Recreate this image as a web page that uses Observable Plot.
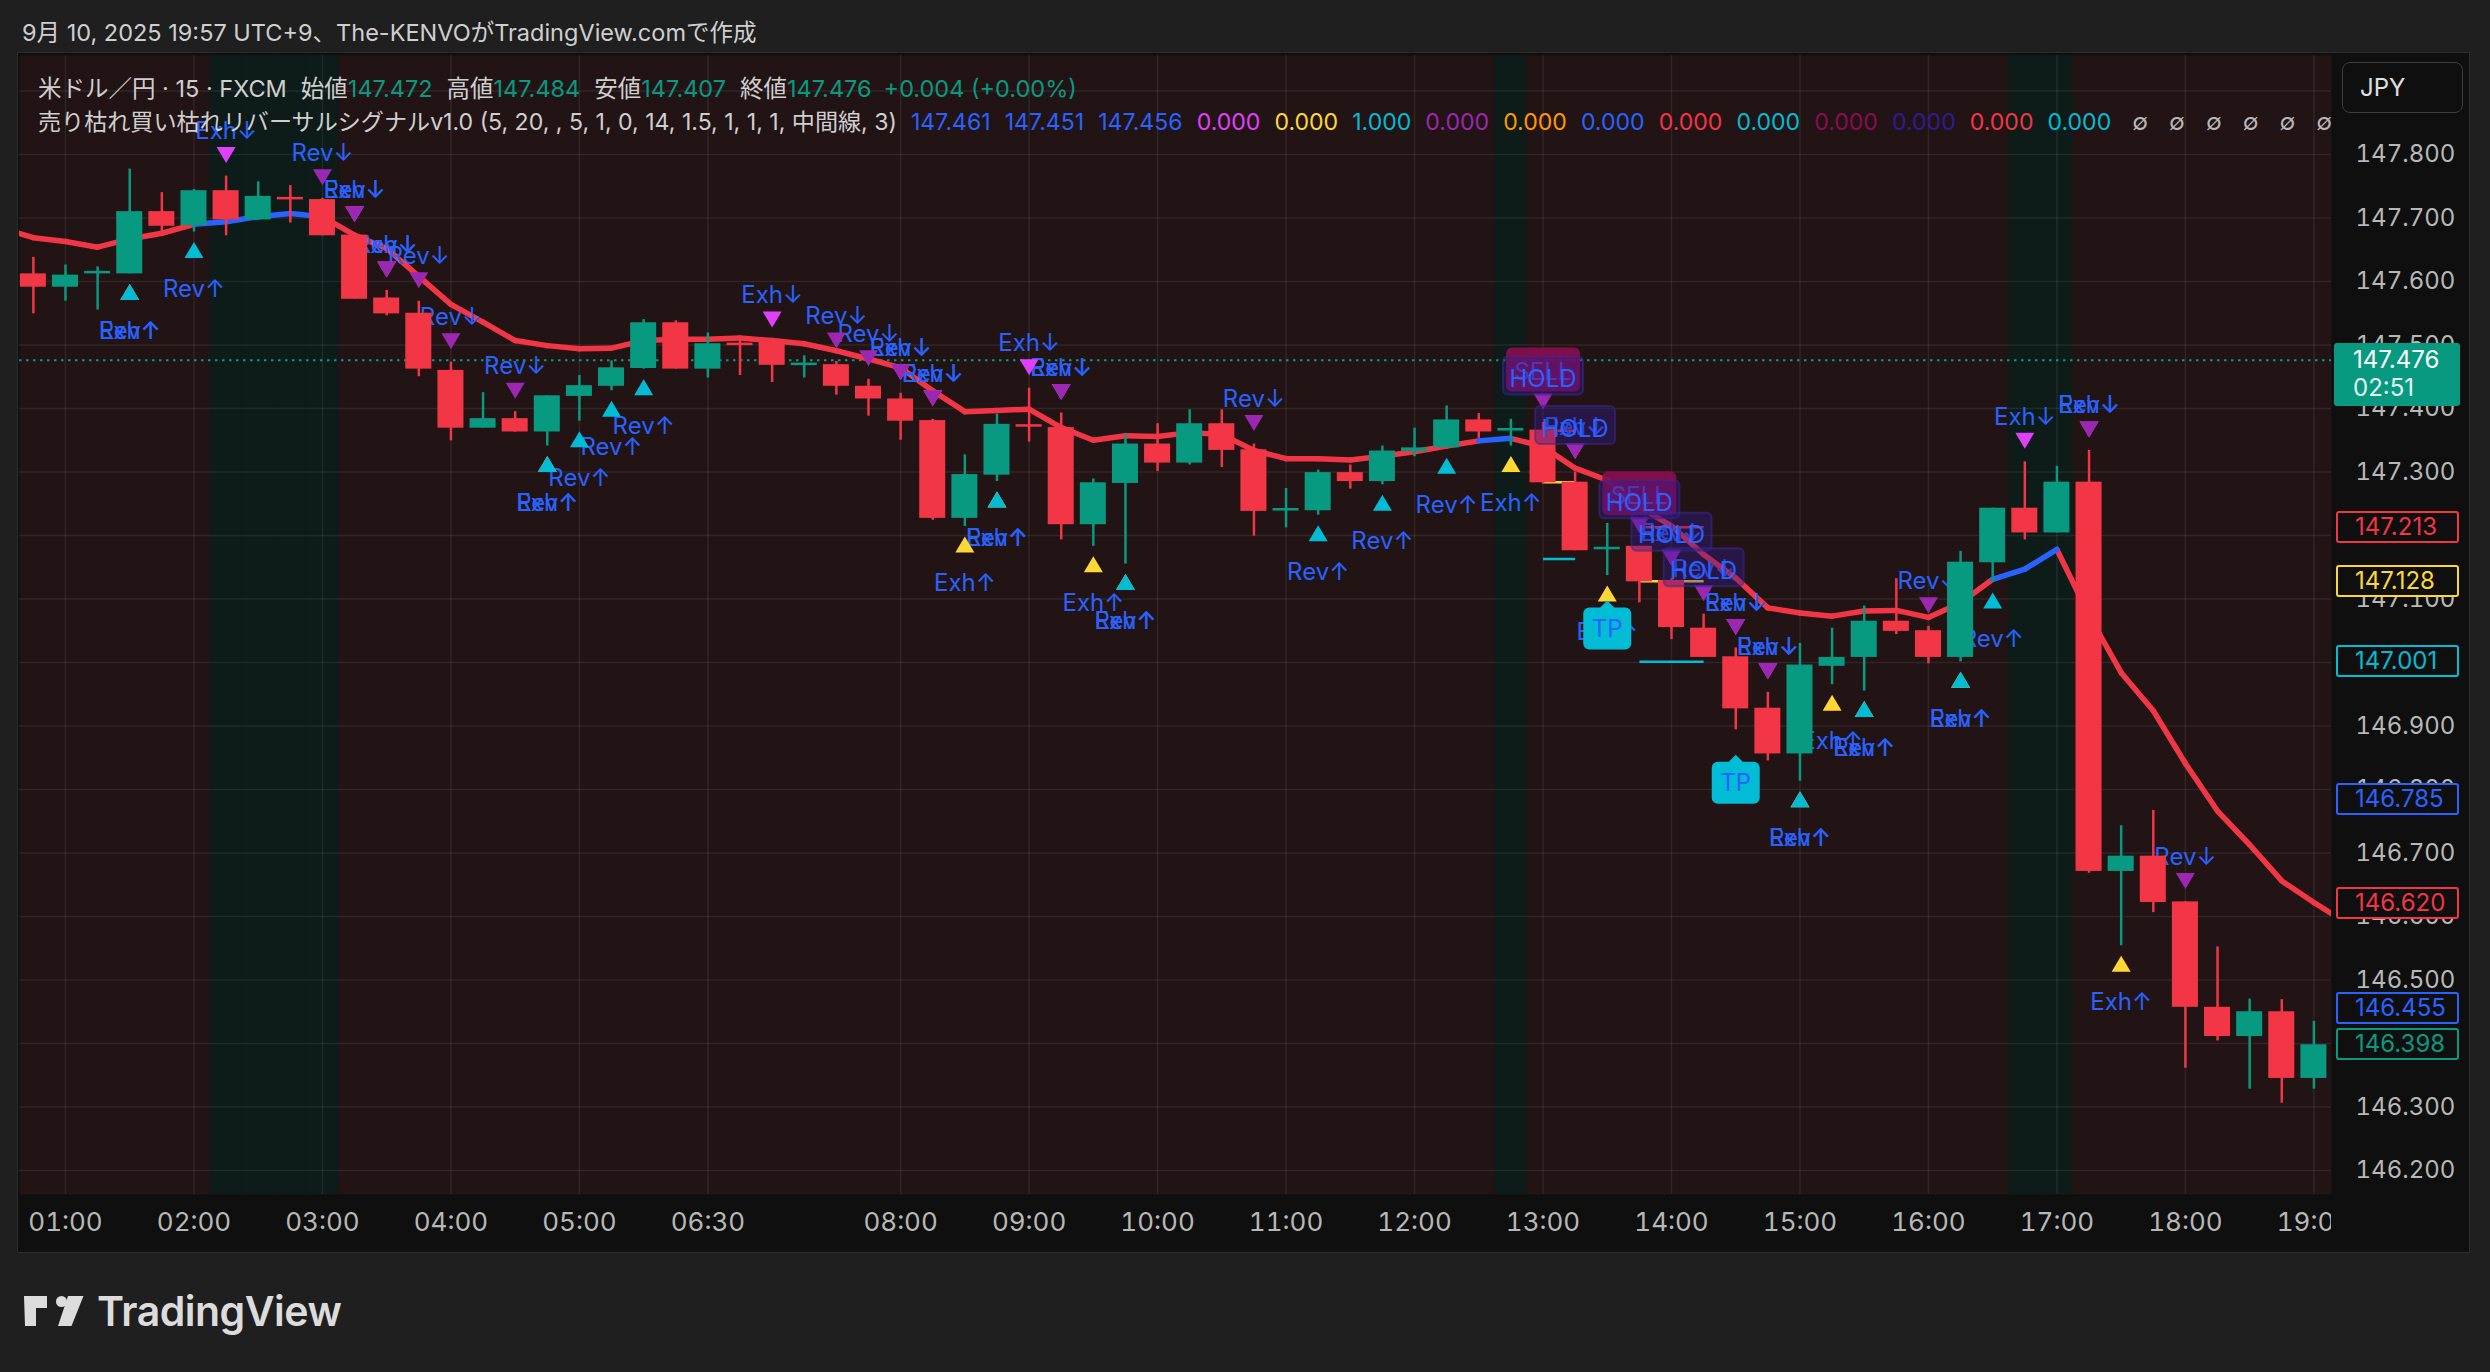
<!DOCTYPE html>
<html><head><meta charset="utf-8">
<script src="https://cdn.jsdelivr.net/npm/d3@7"></script>
<script src="https://cdn.jsdelivr.net/npm/@observablehq/plot@0.6"></script>
<style>
body{margin:0;background:#1f1f1f;width:2490px;height:1372px;overflow:hidden;font-family:Inter,"Noto Sans CJK JP",sans-serif;}
#panel{position:absolute;left:18px;top:53px;width:2451px;height:1199px;background:#0f0f0f;box-shadow:0 0 0 1px #2c2c2c;}
#chart{position:absolute;left:0;top:0;}
.abs{position:absolute;white-space:nowrap;}
.hdr{position:absolute;white-space:nowrap;font-size:23.5px;line-height:26px;color:#cfcfcf;}
.plab{position:absolute;left:2336px;width:119px;height:28px;border:2px solid;border-radius:3px;background:#0f0f0f;font-size:24px;line-height:28px;padding-left:0;box-sizing:content-box;}
.plab span{position:absolute;left:17px;}
</style></head><body>
<div id="panel"></div>
<div id="chart"></div>
<div id="overlay"></div>
<script>
// ---------- data ----------
const candleIdx = d3.range(-1, 71); // 00:45 ... 19:00 (15-min bars)
const openV  = [147.612,147.591,147.613,147.612,147.710,147.688,147.743,147.697,147.731,147.729,147.673,147.574,147.550,147.460,147.369,147.384,147.363,147.419,147.435,147.463,147.535,147.462,147.502,147.507,147.469,147.469,147.435,147.415,147.381,147.227,147.295,147.373,147.370,147.217,147.282,147.344,147.314,147.376,147.335,147.240,147.239,147.299,147.285,147.332,147.338,147.382,147.366,147.366,147.284,147.179,147.183,147.129,147.054,147.009,146.928,146.856,146.994,147.008,147.065,147.050,147.008,147.157,147.243,147.204,147.284,146.671,146.695,146.623,146.457,146.411,146.450,146.345];
const highV  = [147.638,147.626,147.623,147.777,147.740,147.745,147.766,147.757,147.751,147.731,147.673,147.586,147.569,147.473,147.425,147.395,147.420,147.452,147.475,147.540,147.538,147.519,147.512,147.507,147.483,147.474,147.446,147.424,147.383,147.327,147.391,147.432,147.393,147.289,147.359,147.376,147.398,147.398,147.344,147.274,147.303,147.311,147.341,147.369,147.404,147.392,147.383,147.378,147.300,147.219,147.183,147.132,147.076,147.023,146.953,147.030,147.054,147.089,147.132,147.057,147.175,147.243,147.316,147.309,147.334,146.743,146.767,146.623,146.552,146.470,146.469,146.435];
const lowV   = [147.549,147.569,147.555,147.612,147.679,147.678,147.672,147.697,147.692,147.672,147.572,147.546,147.450,147.349,147.369,147.363,147.341,147.380,147.428,147.462,147.462,147.448,147.452,147.441,147.448,147.421,147.388,147.350,147.224,147.214,147.285,147.347,147.193,147.183,147.155,147.301,147.311,147.307,147.199,147.212,147.232,147.273,147.280,147.324,147.338,147.353,147.341,147.281,147.176,147.137,147.094,147.036,147.008,146.894,146.845,146.813,146.965,146.955,147.044,146.998,147.001,147.126,147.193,147.204,146.668,146.554,146.606,146.361,146.404,146.328,146.306,146.328];
const closeV = [147.591,147.610,147.615,147.710,147.687,147.743,147.697,147.734,147.730,147.672,147.572,147.549,147.462,147.369,147.384,147.363,147.420,147.436,147.464,147.535,147.462,147.502,147.500,147.468,147.470,147.435,147.415,147.380,147.227,147.296,147.375,147.372,147.217,147.283,147.344,147.314,147.376,147.334,147.238,147.241,147.299,147.285,147.333,147.338,147.382,147.363,147.367,147.283,147.176,147.180,147.127,147.055,147.008,146.927,146.856,146.996,147.008,147.065,147.049,147.008,147.158,147.243,147.204,147.284,146.671,146.695,146.622,146.457,146.411,146.450,146.345,146.398];

const emaIdx = d3.range(-2, 72);
const emaVal = [147.684,147.669,147.663,147.654,147.667,147.676,147.690,147.694,147.702,147.707,147.702,147.673,147.652,147.608,147.564,147.536,147.507,147.499,147.494,147.495,147.507,147.509,147.509,147.511,147.507,147.502,147.491,147.478,147.464,147.428,147.395,147.397,147.399,147.370,147.350,147.357,147.356,147.362,147.359,147.334,147.321,147.321,147.319,147.325,147.332,147.341,147.349,147.353,147.340,147.306,147.287,147.245,147.215,147.170,147.133,147.086,147.078,147.073,147.081,147.082,147.071,147.094,147.131,147.147,147.178,147.074,146.984,146.924,146.841,146.766,146.713,146.656,146.622,146.590];
const emaBlueFrom = [4, 5, 6, 7, 44, 60, 61];

const revDownIdx = [8,9,10,11,12,14,24,25,26,27,31,37,46,47,49,50,51,52,53,58,63,66];
const exhDownIdx = [5,9,10,22,26,27,30,31,47,50,52,53,61,63];
const revUpIdx   = [2,4,15,16,17,18,29,33,39,41,43,54,56,59,60];
const exhUpIdx   = [2,15,28,29,32,33,45,48,54,55,56,59,64];
const sellIdx = [46, 49];
const holdIdx = [46, 47, 49, 50, 51];
const tpIdx   = [48, 52];

const tradeStart = [46, 49];
const tradeEnd   = [47, 51];
const tradeStop  = [147.365, 147.213];
const tradeEntry = [147.284, 147.128];
const tradeTarget= [147.163, 147.001];

const sessionIdx = [5, 6, 7, 8, 45, 61, 62];
const lastPrice = 147.476;
const lastCountdown = "02:51";

const xTickIdx   = [0,4,8,12,16,20,26,30,34,38,42,46,50,54,58,62,66,70];
const xTickLabel = ["01:00","02:00","03:00","04:00","05:00","06:30","08:00","09:00","10:00","11:00","12:00","13:00","14:00","15:00","16:00","17:00","18:00","19:00"];
const priceTicks = d3.range(0, 18).map(k => +(146.2 + k * 0.1).toFixed(1));

const axisLabelPrice = [147.213, 147.128, 147.001, 146.785, 146.620, 146.455, 146.398];
const axisLabelColor = ["#f23645", "#fdd835", "#00bcd4", "#2962ff", "#f23645", "#2962ff", "#089981"];

const titleText = "9月 10, 2025 19:57 UTC+9、The-KENVOがTradingView.comで作成";
const symbolText = "米ドル／円 · 15 · FXCM";
const ohlcNames  = ["始値", "高値", "安値", "終値"];
const ohlcValues = ["147.472", "147.484", "147.407", "147.476"];
const changeText = "+0.004 (+0.00%)";
const indicatorText = "売り枯れ買い枯れリバーサルシグナルv1.0 (5, 20, , 5, 1, 0, 14, 1.5, 1, 1, 1, 中間線, 3)";
const indicatorValues = ["147.461","147.451","147.456","0.000","0.000","1.000","0.000","0.000","0.000","0.000","0.000","0.000","0.000","0.000","0.000","∅","∅","∅","∅","∅","∅"];
const indicatorColors = ["#2962ff","#2962ff","#2962ff","#e040fb","#fdd835","#00bcd4","#9c27b0","#ff9800","#2962ff","#f23645","#00bcd4","#880e4f","#311b92","#f23645","#00bcd4","#b8b8b8","#b8b8b8","#b8b8b8","#b8b8b8","#b8b8b8","#b8b8b8"];

// ---------- build ----------
const GREEN = "#089981", RED = "#f23645", BLUE = "#2962ff";
const candles = candleIdx.map((i, k) => ({i, o: openV[k], h: highV[k], l: lowV[k], c: closeV[k]}));
const hi = i => highV[i + 1], lo = i => lowV[i + 1];
const bodyLo = d => { const a = Math.min(d.o, d.c), b = Math.max(d.o, d.c); return b - a < 0.004 ? (a + b) / 2 - 0.002 : a; };
const bodyHi = d => { const a = Math.min(d.o, d.c), b = Math.max(d.o, d.c); return b - a < 0.004 ? (a + b) / 2 + 0.002 : b; };
const ccol = d => d.c >= d.o ? GREEN : RED;

const segs = emaIdx.slice(0, -1).map((i, k) => ({x1: i, y1: emaVal[k], x2: emaIdx[k + 1], y2: emaVal[k + 1], blue: emaBlueFrom.includes(i)}));
const trades = tradeStart.map((s, k) => ({s, e: tradeEnd[k], sl: tradeStop[k], en: tradeEntry[k], tp: tradeTarget[k]}));

function boxSymbol(w, h, r, notch) {
  return {draw(ctx) {
    const x0 = -w / 2, y0 = -h / 2, x1 = w / 2, y1 = h / 2;
    ctx.moveTo(x0 + r, y0);
    if (notch) { ctx.lineTo(-notch, y0); ctx.lineTo(0, y0 - notch); ctx.lineTo(notch, y0); }
    ctx.lineTo(x1 - r, y0); ctx.arcTo(x1, y0, x1, y0 + r, r);
    ctx.lineTo(x1, y1 - r); ctx.arcTo(x1, y1, x1 - r, y1, r);
    ctx.lineTo(x0 + r, y1); ctx.arcTo(x0, y1, x0, y1 - r, r);
    ctx.lineTo(x0, y0 + r); ctx.arcTo(x0, y0, x0 + r, y0, r);
    ctx.closePath();
  }};
}
const triDown = {draw(ctx) { ctx.moveTo(-9.5, -8); ctx.lineTo(9.5, -8); ctx.lineTo(0, 8); ctx.closePath(); }};
const triUp   = {draw(ctx) { ctx.moveTo(0, -8); ctx.lineTo(9.5, 8); ctx.lineTo(-9.5, 8); ctx.closePath(); }};

const labelFont = 24;
const chart = Plot.plot({
  width: 2490, height: 1260,
  marginLeft: 19, marginRight: 159, marginTop: 55, marginBottom: 66,
  x: {domain: [-1.432, 70.548]},
  y: {domain: [146.1622, 147.9559]},
  style: {background: "transparent", fontFamily: "Inter, 'Noto Sans CJK JP', sans-serif", fontSize: "24px", color: "#b8b8b8"},
  marks: [
    Plot.frame({fill: "#221415", stroke: "none"}),
    Plot.rect(sessionIdx, {x1: d => d - 0.5, x2: d => d + 0.5, fill: "#0d1b19"}),
    Plot.gridY({ticks: priceTicks, stroke: "#ffffff", strokeOpacity: 0.075, strokeWidth: 1.5}),
    Plot.gridX({ticks: xTickIdx, stroke: "#ffffff", strokeOpacity: 0.075, strokeWidth: 1.5}),
    Plot.ruleY([lastPrice], {stroke: GREEN, strokeWidth: 2, strokeDasharray: "2.5,4.5"}),
    Plot.link(segs.filter(d => !d.blue), {x1: "x1", y1: "y1", x2: "x2", y2: "y2", stroke: RED, strokeWidth: 5.5, strokeLinecap: "round", clip: true}),
    Plot.link(segs.filter(d => d.blue), {x1: "x1", y1: "y1", x2: "x2", y2: "y2", stroke: BLUE, strokeWidth: 5.5, strokeLinecap: "round", clip: true}),
    Plot.link(trades, {x1: "s", x2: "e", y1: "sl", y2: "sl", stroke: RED, strokeWidth: 2.5}),
    Plot.link(trades, {x1: "s", x2: "e", y1: "en", y2: "en", stroke: "#fdd835", strokeWidth: 2.5}),
    Plot.link(trades, {x1: "s", x2: "e", y1: "tp", y2: "tp", stroke: "#00bcd4", strokeWidth: 2.5}),
    Plot.text(exhDownIdx, {x: d => d, y: hi, text: () => "Exh↓", dy: -45, fill: BLUE, fontSize: labelFont}),
    Plot.text(revDownIdx, {x: d => d, y: hi, text: () => "Rev↓", dy: -45, fill: BLUE, fontSize: labelFont}),
    Plot.text(exhUpIdx, {x: d => d, y: lo, text: () => "Exh↑", dy: 57, fill: BLUE, fontSize: labelFont}),
    Plot.text(revUpIdx, {x: d => d, y: lo, text: () => "Rev↑", dy: 57, fill: BLUE, fontSize: labelFont}),
    Plot.dot(exhDownIdx, {x: d => d, y: hi, dy: -21, symbol: triDown, r: 5, fill: "#e040fb", stroke: "none"}),
    Plot.dot(revDownIdx, {x: d => d, y: hi, dy: -21, symbol: triDown, r: 5, fill: "#9c27b0", stroke: "none"}),
    Plot.dot(exhUpIdx, {x: d => d, y: lo, dy: 18, symbol: triUp, r: 5, fill: "#fdd835", stroke: "none"}),
    Plot.dot(revUpIdx, {x: d => d, y: lo, dy: 18, symbol: triUp, r: 5, fill: "#00bcd4", stroke: "none"}),
    Plot.ruleX(candles, {x: "i", y1: "l", y2: "h", stroke: ccol, strokeWidth: 2.5}),
    Plot.rect(candles, {x1: d => d.i - 0.405, x2: d => d.i + 0.405, y1: bodyLo, y2: bodyHi, fill: ccol}),
    Plot.dot(sellIdx, {x: d => d, y: hi, dy: -53, symbol: boxSymbol(74, 44, 6), r: 5, fill: "#880e4f", fillOpacity: 0.92, stroke: "none"}),
    Plot.text(sellIdx, {x: d => d, y: hi, dy: -50, text: () => "SELL", fill: "#4d5ef0", fillOpacity: 0.8, fontSize: 24}),
    Plot.dot(holdIdx, {x: d => d, y: hi, dy: -47, symbol: boxSymbol(80, 38, 5), r: 5, fill: "#311b92", fillOpacity: 0.38, stroke: "#3b2a94", strokeOpacity: 0.55, strokeWidth: 2}),
    Plot.text(holdIdx, {x: d => d, y: hi, dy: -43, text: () => "HOLD", fill: BLUE, fontSize: 24}),
    Plot.dot(tpIdx, {x: d => d, y: lo, dy: 53, symbol: boxSymbol(48, 42, 6, 7), r: 5, fill: "#00bcd4", stroke: "none"}),
    Plot.text(tpIdx, {x: d => d, y: lo, dy: 54, text: () => "TP", fill: BLUE, fontSize: 24}),
    Plot.axisX({ticks: xTickIdx, tickFormat: d => xTickLabel[xTickIdx.indexOf(d)], tickSize: 0, tickPadding: 18, fontSize: 26, label: null}),
    Plot.axisY({anchor: "right", ticks: priceTicks, tickFormat: d => d.toFixed(3), tickSize: 0, tickPadding: 24, fontSize: 24, label: null})
  ]
});
document.getElementById("chart").appendChild(chart);

// ---------- overlays (HTML) ----------
const ov = document.getElementById("overlay");
const ys = chart.scale("y");
function add(html) { ov.insertAdjacentHTML("beforeend", html); }

// cover x-axis overflow under the price scale
add(`<div class="abs" style="left:2331px;top:1196px;width:138px;height:55px;background:#0f0f0f"></div>`);

// header
add(`<div class="hdr" style="left:22px;top:20px;">${titleText}</div>`);
let l2 = `<span>${symbolText}</span>`;
ohlcNames.forEach((n, k) => { l2 += `<span style="margin-left:14px">${n}<span style="color:${GREEN}">${ohlcValues[k]}</span></span>`; });
l2 += `<span style="margin-left:12px;color:${GREEN}">${changeText}</span>`;
add(`<div class="hdr" style="left:38px;top:76px;">${l2}</div>`);
let l3 = `<span>${indicatorText}</span>`;
indicatorValues.forEach((v, k) => { l3 += `<span style="margin-left:${v === "∅" ? 21 : 14}px;color:${indicatorColors[k]}">${v}</span>`; });
add(`<div class="hdr" style="left:38px;top:109px;font-size:23.1px;">${l3}</div>`);

// JPY button
add(`<div class="abs" style="left:2342px;top:62px;width:119px;height:49px;border:1.5px solid #3d3d3d;border-radius:8px;background:#0f0f0f;color:#e0e0e0;font-size:24px;line-height:49px;"><span style="margin-left:17px">JPY</span></div>`);

// price-scale labels
axisLabelPrice.forEach((p, k) => {
  const y = ys.apply(p);
  add(`<div class="plab" style="top:${y - 16}px;border-color:${axisLabelColor[k]};color:${axisLabelColor[k]}"><span>${p.toFixed(3)}</span></div>`);
});
{
  const y = ys.apply(lastPrice);
  add(`<div class="abs" style="left:2334px;top:${y - 17}px;width:126px;height:63px;background:${GREEN};border-radius:3px;color:#fff;font-size:24px;">
    <div style="position:absolute;left:19px;top:3px;line-height:28px;">${lastPrice.toFixed(3)}</div>
    <div style="position:absolute;left:19px;top:31px;line-height:28px;color:#e6f5f2">${lastCountdown}</div></div>`);
}

// TradingView logo
add(`<svg class="abs" style="left:0;top:1280px" width="360" height="70">
  <path d="M24 16h23v12h-11v18h-11z" fill="#dcdcdc"/>
  <circle cx="61.5" cy="21.5" r="5.5" fill="#dcdcdc"/>
  <path d="M68 16h15.5l-12 30h-13.5z" fill="#dcdcdc"/>
  <text x="97" y="46" font-family="Inter, sans-serif" font-weight="600" font-size="41" fill="#dcdcdc" letter-spacing="-0.5">TradingView</text>
</svg>`);
</script>
</body></html>
